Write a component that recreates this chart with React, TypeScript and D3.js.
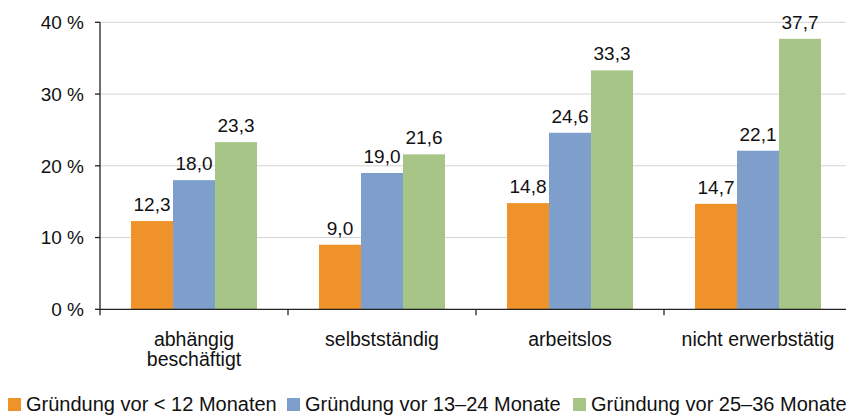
import React from 'react'
import * as d3 from 'd3'

const categories = [['abhängig', 'beschäftigt'], ['selbstständig'], ['arbeitslos'], ['nicht erwerbstätig']]
const seriesNames = ['Gründung vor < 12 Monaten', 'Gründung vor 13–24 Monate', 'Gründung vor 25–36 Monaten']
const under12 = [12.3, 9.0, 14.8, 14.7]
const from13to24 = [18.0, 19.0, 24.6, 22.1]
const from25to36 = [23.3, 21.6, 33.3, 37.7]
const yTicks = [0, 10, 20, 30, 40]

const colors = ['#F0922A', '#7E9FCB', '#A7C586']
const values = [under12, from13to24, from25to36]

const W = 846
const H = 416
const FONT = 'Liberation Sans, Arial, sans-serif'

const App = () => {
  const catKeys = categories.map(c => c.join(' '))
  const x0 = d3.scaleBand().domain(catKeys).range([100, 852])
  const x1 = d3.scaleBand().domain(seriesNames).range([31, 157])
  const y = d3.scaleLinear().domain([0, 40]).range([309.3, 22.3])
  const fmt = (v: number) => d3.format('.1f')(v).replace('.', ',')

  // legend positions (left edge of each square)
  const legendX = [8, 287, 573]

  return (
    <svg width={W} height={H} style={{ position: 'absolute', left: 0, top: 0, background: '#fff' }} fontFamily={FONT}>
      {/* gridlines */}
      {yTicks.filter(t => t > 0).map(t => (
        <line key={t} x1={100} x2={W} y1={y(t)} y2={y(t)} stroke="#d3d3d3" strokeWidth={1} />
      ))}

      {/* bars */}
      {catKeys.map((c, ci) => (
        <g key={c} transform={`translate(${x0(c)},0)`}>
          {seriesNames.map((s, si) => {
            const v = values[si][ci]
            return (
              <g key={s}>
                <rect x={x1(s)} y={y(v)} width={x1.bandwidth()} height={y(0) - y(v)} fill={colors[si]} />
                <text x={x1(s)! + x1.bandwidth() / 2} y={y(v) - 10} textAnchor="middle" fontSize={19} fill="#111">
                  {fmt(v)}
                </text>
              </g>
            )
          })}
        </g>
      ))}

      {/* y axis */}
      <line x1={100} x2={100} y1={y(40)} y2={y(0)} stroke="#222" strokeWidth={1.3} />
      {yTicks.map(t => (
        <g key={t}>
          <line x1={95} x2={100} y1={y(t)} y2={y(t)} stroke="#222" strokeWidth={1.3} />
          <text x={84} y={y(t)} dy="0.36em" textAnchor="end" fontSize={19} fill="#111">
            {t} %
          </text>
        </g>
      ))}

      {/* x axis */}
      <line x1={100} x2={W} y1={y(0)} y2={y(0)} stroke="#222" strokeWidth={1.3} />
      {catKeys.map(c => (
        <line key={c} x1={x0(c)} x2={x0(c)} y1={y(0)} y2={y(0) + 6} stroke="#222" strokeWidth={1.3} />
      ))}
      {categories.map((lines, ci) => (
        <text key={ci} x={x0(catKeys[ci])! + x0.bandwidth() / 2} y={346} textAnchor="middle" fontSize={19.5} fill="#111">
          {lines.map((l, li) => (
            <tspan key={li} x={x0(catKeys[ci])! + x0.bandwidth() / 2} dy={li === 0 ? 0 : 20}>
              {l}
            </tspan>
          ))}
        </text>
      ))}

      {/* legend */}
      {seriesNames.map((s, i) => (
        <g key={s} transform={`translate(${legendX[i]},398)`}>
          <rect x={0} y={0} width={13} height={13} fill={colors[i]} />
          <text x={18} y={13} fontSize={20} fill="#111">
            {s}
          </text>
        </g>
      ))}
    </svg>
  )
}

export default App
